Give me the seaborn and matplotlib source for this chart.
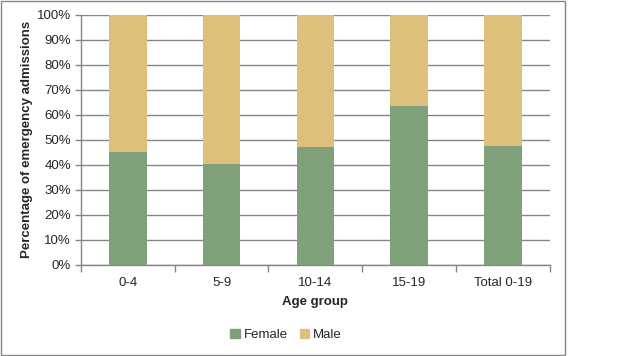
import matplotlib
matplotlib.use("Agg")
import matplotlib.pyplot as plt
import seaborn as sns
import pandas as pd
import numpy as np
from matplotlib.ticker import PercentFormatter, FixedLocator
from matplotlib.patches import Patch

# data
age_groups = ["0-4", "5-9", "10-14", "15-19", "Total 0-19"]
female = [45.2, 40.4, 47.2, 63.6, 47.6]
male = [54.8, 59.6, 52.8, 36.4, 52.4]

df = pd.DataFrame({"Age group": age_groups, "Female": female, "Male": male})
df["Total"] = df["Female"] + df["Male"]

green = "#7fa07a"
tan = "#dcc07c"
grid_col = "#868686"

sns.set_style("white")
plt.rcParams["font.family"] = ["Liberation Sans", "DejaVu Sans"]

fig = plt.figure(figsize=(6.27, 3.56), dpi=100)
ax = fig.add_axes([0.129, 0.256, 0.748, 0.702])

# stacked bars: male on top of female
sns.barplot(data=df, x="Age group", y="Total", color=tan, width=0.4,
            saturation=1, linewidth=0, ax=ax, zorder=2)
sns.barplot(data=df, x="Age group", y="Female", color=green, width=0.4,
            saturation=1, linewidth=0, ax=ax, zorder=3)

ax.set_ylim(0, 100)
ax.set_xlim(-0.5, 4.5)
ax.yaxis.set_major_locator(FixedLocator(np.arange(0, 101, 10)))
ax.yaxis.set_major_formatter(PercentFormatter(decimals=0))
ax.grid(axis="y", color=grid_col, linewidth=1, zorder=0)
ax.set_axisbelow(True)

for s in ["top", "right"]:
    ax.spines[s].set_visible(False)
for s in ["left", "bottom"]:
    ax.spines[s].set_color(grid_col)
    ax.spines[s].set_linewidth(1)

ax.tick_params(axis="y", length=4, color=grid_col, width=1, labelsize=9.5,
               pad=3, left=True)
ax.tick_params(axis="x", which="major", length=0, labelsize=9.5, pad=9)
ax.set_xticks(np.arange(-0.5, 5, 1), minor=True)
ax.tick_params(axis="x", which="minor", length=5, color=grid_col, width=1,
               bottom=True)

ax.set_xlabel("Age group", fontsize=9.5, fontweight="bold", labelpad=5)
ax.set_ylabel("Percentage of emergency admissions", fontsize=9.5,
              fontweight="bold", labelpad=3)

handles = [Patch(color=green, label="Female"), Patch(color=tan, label="Male")]
fig.legend(handles=handles, loc="center", bbox_to_anchor=(0.456, 0.06), ncol=2,
           frameon=False, fontsize=9.5, handlelength=0.7, handleheight=0.7,
           handletextpad=0.3, columnspacing=0.9)

# chart area border (does not span the full image width)
fig.patches.append(plt.Rectangle((0.001, 0.002), 0.9, 0.995,
                                 transform=fig.transFigure, fill=False,
                                 edgecolor=grid_col, linewidth=1))

fig.savefig("out.png", dpi=100)
